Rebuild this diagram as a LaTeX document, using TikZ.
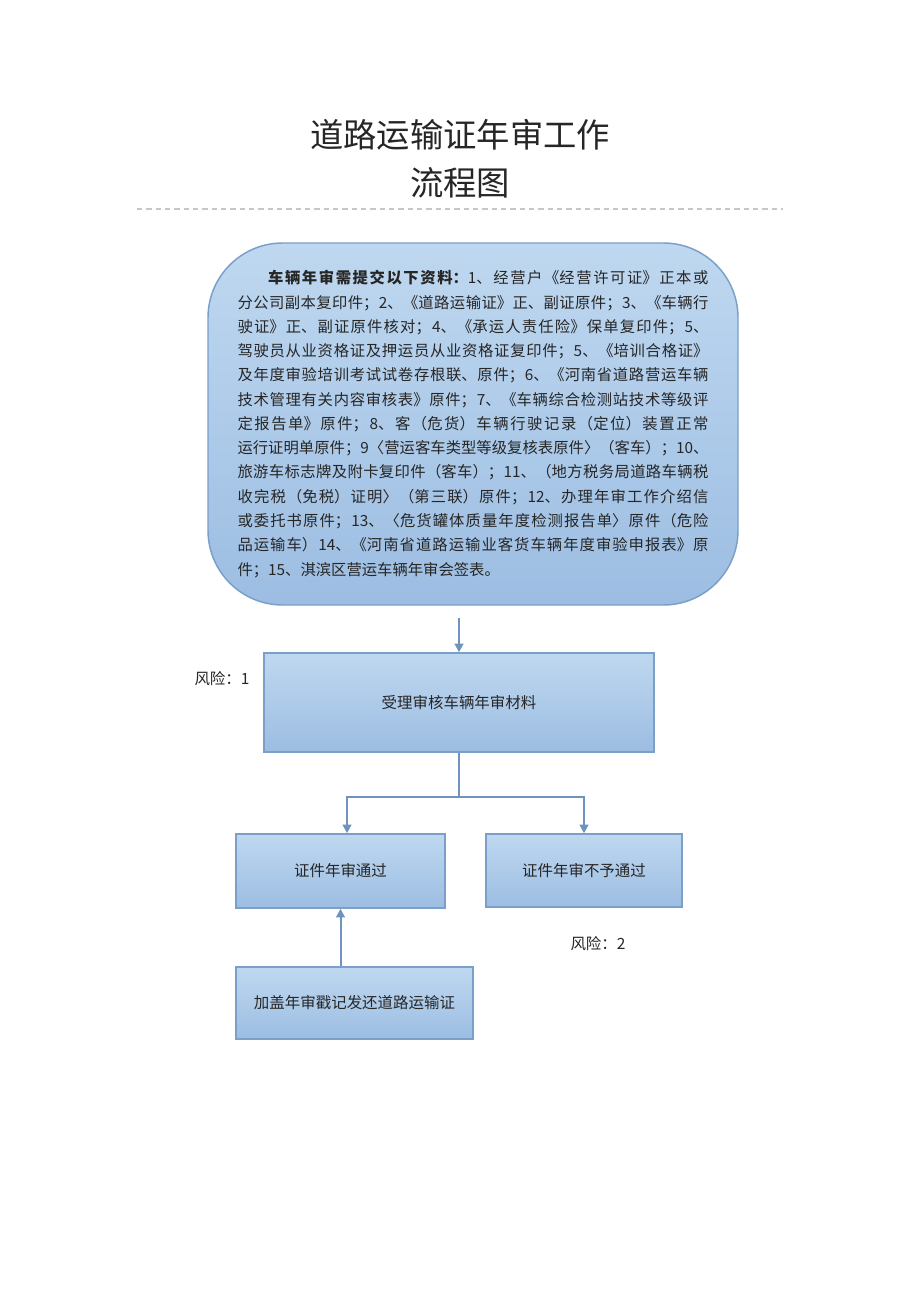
\documentclass[tikz,border=0pt]{standalone}
\usepackage{fontspec}
\setmainfont{Noto Sans CJK SC}
\usepackage{tikz}
\usetikzlibrary{arrows.meta}
\XeTeXlinebreaklocale "zh"
\XeTeXlinebreakskip=0pt plus 1pt

\definecolor{boxtop}{HTML}{BFD8F0}
\definecolor{boxbot}{HTML}{9CBDE2}
\definecolor{boxline}{HTML}{7A9FC8}
\definecolor{arrline}{HTML}{6F93BF}

\begin{document}
\begin{tikzpicture}[x=0.75pt,y=-0.75pt,
  stepbox/.style={draw=boxline,line width=1.1pt,top color=boxtop,bottom color=boxbot,
    text=black!85,font=\fontsize{11.6pt}{14pt}\selectfont,inner sep=0pt},
  conn/.style={draw=arrline,line width=1.5pt},
  arr/.style={conn,-{Triangle[width=6.5pt,length=6.5pt]}},
  risk/.style={text=black!85,font=\fontsize{11.6pt}{14pt}\selectfont}]
\useasboundingbox[fill=white] (0,0) rectangle (920,1302);

\node[font=\fontsize{25pt}{30pt}\selectfont,text=black!85] (title1) at (460,135) {道路运输证年审工作};
\node[font=\fontsize{25pt}{30pt}\selectfont,text=black!85] (title2) at (460,183) {流程图};
\coordinate (rulel) at (137,209);
\coordinate (ruler) at (783,209);
\draw[black!22,line width=0.8pt,dash pattern=on 4pt off 3pt] (rulel) -- (ruler);

\node[stepbox,rounded corners=56pt,minimum width=397.5pt,minimum height=271.5pt,
  text width=353.25pt,align=justify,font=\fontsize{11.5pt}{18.2pt}\selectfont] (docs) at (473,424)
{\hspace*{2em}\textbf{车辆年审需提交以下资料：}1、经营户《经营许可证》正本或\linebreak
分公司副本复印件；2、《道路运输证》正、副证原件；3、《车辆行\linebreak
驶证》正、副证原件核对；4、《承运人责任险》保单复印件；5、\linebreak
驾驶员从业资格证及押运员从业资格证复印件；5、《培训合格证》\linebreak
及年度审验培训考试试卷存根联、原件；6、《河南省道路营运车辆\linebreak
技术管理有关内容审核表》原件；7、《车辆综合检测站技术等级评\linebreak
定报告单》原件；8、客（危货）车辆行驶记录（定位）装置正常\linebreak
运行证明单原件；9〈营运客车类型等级复核表原件〉（客车）；10、\linebreak
旅游车标志牌及附卡复印件（客车）；11、（地方税务局道路车辆税\linebreak
收完税（免税）证明〉（第三联）原件；12、办理年审工作介绍信\linebreak
或委托书原件；13、〈危货罐体质量年度检测报告单〉原件（危险\linebreak
品运输车）14、《河南省道路运输业客货车辆年度审验申报表》原\linebreak
件；15、淇滨区营运车辆年审会签表。};

\node[stepbox,minimum width=292.5pt,minimum height=74.25pt] (accept) at (459,702.5) {受理审核车辆年审材料};
\node[risk] (risk1) at (222,679) {风险：1};
\node[stepbox,minimum width=156.75pt,minimum height=55.5pt] (pass) at (340.5,871) {证件年审通过};
\node[stepbox,minimum width=147pt,minimum height=54.75pt] (fail) at (584,870.5) {证件年审不予通过};
\node[risk] (risk2) at (598,944) {风险：2};
\node[stepbox,minimum width=177.75pt,minimum height=54pt] (stamp) at (354.5,1003) {加盖年审戳记发还道路运输证};

\coordinate (split) at (459,797);
\draw[arr,shorten <=9pt] (docs.south -| accept.north) -- (accept.north);
\draw[conn] (accept.south) -- (split);
\draw[arr] (split) -| ([xshift=4.9pt]pass.north);
\draw[arr] (split) -| (fail.north);
\draw[arr] (stamp.north -| pass.south) -- (pass.south);
\end{tikzpicture}
\end{document}
